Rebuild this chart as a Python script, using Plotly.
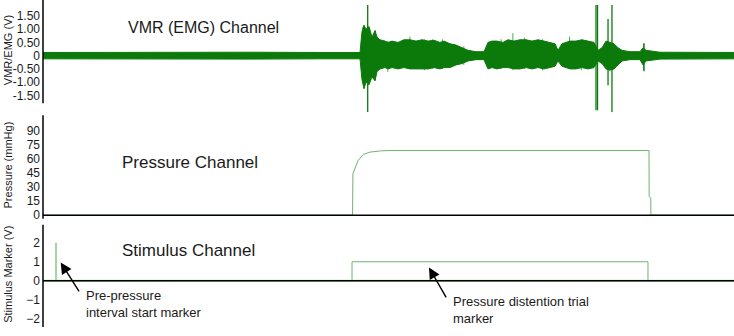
import plotly.graph_objects as go

# ---------------- data ----------------
# EMG envelope (time in s, max / min in V)
emg_t = [0, 10, 20, 30, 40, 45.88, 46.16, 46.45, 46.74, 47.18, 47.61, 48.05, 48.34, 48.77,
         49.49, 49.93, 50.51, 51.37, 52.24, 53.11, 53.98, 54.85, 55.72, 56.58, 57.45,
         58.03, 58.90, 59.77, 60.64, 61.51, 62.66, 63.82, 64.40, 64.98, 65.70, 66.57,
         67.29, 68.16, 69.03, 69.90, 70.77, 71.64, 72.50, 73.37, 74.10, 74.53, 75.11,
         75.69, 76.27, 77.13, 78.00, 78.87, 79.74, 80.32, 80.90, 81.48, 82.05, 82.63,
         83.21, 83.79, 84.95, 86.40, 86.83, 87.26, 89.29, 95, 100]
emg_max = [0.12, 0.13, 0.12, 0.13, 0.12, 0.12, 0.9, 1.15, 1.0, 1.1, 0.7, 0.95, 0.7, 0.6,
           0.55, 0.5, 0.55, 0.5, 0.6, 0.6, 0.55, 0.6, 0.55, 0.58, 0.5,
           0.55, 0.45, 0.4, 0.3, 0.2, 0.15, 0.15, 0.5, 0.55, 0.55, 0.5,
           0.6, 0.55, 0.6, 0.6, 0.55, 0.6, 0.55, 0.5, 0.45, 0.2, 0.45,
           0.5, 0.55, 0.55, 0.6, 0.55, 0.5, 0.2, 0.3, 0.55, 0.5, 0.45,
           0.3, 0.2, 0.15, 0.15, 0.3, 0.2, 0.13, 0.12, 0.12]
emg_min = [-0.12, -0.13, -0.12, -0.13, -0.12, -0.12, -0.9, -1.25, -1.0, -1.1, -0.8, -0.95, -0.6, -0.5,
           -0.45, -0.5, -0.45, -0.5, -0.45, -0.5, -0.5, -0.5, -0.5, -0.45, -0.5,
           -0.45, -0.45, -0.35, -0.3, -0.2, -0.15, -0.15, -0.5, -0.45, -0.5, -0.45,
           -0.45, -0.5, -0.5, -0.45, -0.5, -0.45, -0.5, -0.45, -0.4, -0.2, -0.4,
           -0.45, -0.5, -0.5, -0.45, -0.5, -0.45, -0.2, -0.3, -0.5, -0.55, -0.5,
           -0.35, -0.2, -0.15, -0.15, -0.35, -0.2, -0.13, -0.12, -0.12]
# large isolated EMG spikes: time, top, bottom (V)
spike_t = [46.99, 80.03, 80.25, 81.77, 82.34, 86.98]
spike_top = [1.91, 1.91, 1.91, 1.38, 1.91, 0.47]
spike_bot = [-2.14, -2.06, -2.06, -1.12, -2.14, -0.59]
# small EMG spikes on the burst edges: time, top, bottom (V)
small_t = [46.3, 46.55, 48.1, 49.9, 53.1, 55.2, 56.4, 57.8, 60.9, 66.3, 68.0, 69.7, 72.3,
           76.2, 77.9, 86.9]
small_top = [1.09, 1.05, 0.94, 0.55, 0.72, 0.62, 0.62, 0.62, 0.35, 0.62, 0.85, 0.68, 0.62,
             0.72, 0.6, 0.45]
small_bot = [-1.0, -1.05, -0.93, -0.61, -0.5, -0.55, -0.5, -0.5, -0.35, -0.5, -0.55, -0.5, -0.55,
             -0.5, -0.55, -0.55]

# Pressure channel (mmHg)
press_t = [0, 44.8, 44.85, 45.15, 45.6, 46.35, 47.3, 48.8, 50.2, 87.7, 87.72, 87.95, 87.98, 100]
press_v = [0, 0, 44, 49, 58, 64.4, 66.9, 68.2, 68.6, 68.6, 20, 18, 0, 0]

# Stimulus channel (V)
pulse_t = [0, 1.88, 1.88, 1.88, 100]
pulse_v = [0, 0, 2, 0, 0]
trial_t = [0, 44.72, 44.72, 87.55, 87.55, 100]
trial_v = [0, 0, 1, 1, 0, 0]

emg_ticks = [1.5, 1.0, 0.5, 0, -0.5, -1.0, -1.5]
emg_ticktext = ["1.50", "1.00", "0.50", "0", "-0.50", "-1.00", "-1.50"]
press_ticks = [0, 15, 30, 45, 60, 75, 90]
stim_ticks = [-2, -1, 0, 1, 2]

# ---------------- figure ----------------
W, H = 734, 336
FIG_H = 341
L = 43
FONT = "Arial, Liberation Sans, sans-serif"
EMG_C = "#0b7a0b"
P_C = "#6db36d"

def px(x):
    return (x - L) / (W - L)

def py(y):
    return 1 - y / H

fig = go.Figure()

# EMG band
fig.add_trace(go.Scatter(x=emg_t, y=emg_max, mode="lines", line=dict(color=EMG_C, width=1),
                         xaxis="x", yaxis="y", showlegend=False, hoverinfo="skip"))
fig.add_trace(go.Scatter(x=emg_t, y=emg_min, mode="lines", line=dict(color=EMG_C, width=1),
                         fill="tonexty", fillcolor=EMG_C,
                         xaxis="x", yaxis="y", showlegend=False, hoverinfo="skip"))
sx, sy = [], []
for t, a, b in zip(small_t, small_top, small_bot):
    sx += [t, t, None]
    sy += [a, b, None]
fig.add_trace(go.Scatter(x=sx, y=sy, mode="lines", line=dict(color="rgba(11,122,11,0.7)", width=1),
                         xaxis="x", yaxis="y", showlegend=False, hoverinfo="skip"))
sx, sy = [], []
for t, a, b in zip(spike_t, spike_top, spike_bot):
    sx += [t, t, None]
    sy += [a, b, None]
fig.add_trace(go.Scatter(x=sx, y=sy, mode="lines", line=dict(color=EMG_C, width=1.3),
                         xaxis="x", yaxis="y", showlegend=False, hoverinfo="skip"))

# Pressure
fig.add_trace(go.Scatter(x=press_t, y=press_v, mode="lines", line=dict(color=P_C, width=1),
                         xaxis="x2", yaxis="y2", showlegend=False, hoverinfo="skip"))

# Stimulus
fig.add_trace(go.Scatter(x=trial_t, y=trial_v, mode="lines", line=dict(color=P_C, width=1),
                         xaxis="x3", yaxis="y3", showlegend=False, hoverinfo="skip"))
fig.add_trace(go.Scatter(x=pulse_t, y=pulse_v, mode="lines", line=dict(color="#a3d6a3", width=2),
                         xaxis="x3", yaxis="y3", showlegend=False, hoverinfo="skip"))

tickfont = dict(family=FONT, size=12, color="#1a1a1a")
common_x = dict(range=[0, 100], visible=False, fixedrange=True)
ycommon = dict(showgrid=False, zeroline=False, showline=False, ticks="", tickfont=tickfont,
               ticklabelstandoff=2, fixedrange=True)

fig.update_layout(
    width=W, height=FIG_H, autosize=False,
    margin=dict(l=L, r=0, t=0, b=0, pad=0),
    paper_bgcolor="white", plot_bgcolor="white",
    xaxis=dict(domain=[0, 1], anchor="y", **common_x),
    xaxis2=dict(domain=[0, 1], anchor="y2", **common_x),
    xaxis3=dict(domain=[0, 1], anchor="y3", **common_x),
    yaxis=dict(domain=[py(112), 1], range=[-(112 - 55.5) / 26.4, 55.5 / 26.4],
               tickvals=emg_ticks, ticktext=emg_ticktext, anchor="x", **ycommon),
    yaxis2=dict(domain=[py(218), py(115)], range=[-(218 - 214.5) / 0.939, (214.5 - 115) / 0.939],
                tickvals=press_ticks, anchor="x2", **ycommon),
    yaxis3=dict(domain=[py(325), py(225)], range=[-(325 - 280) / 19.0, (280 - 225) / 19.0],
                tickvals=stim_ticks, anchor="x3", **ycommon),
)

# axis lines
shapes = []
for y0, y1 in [(0, 103), (115, 218), (224, 326)]:
    shapes.append(dict(type="line", xref="paper", yref="paper", x0=0, x1=0,
                       y0=py(y1), y1=py(y0), line=dict(color="black", width=1.5)))
shapes.append(dict(type="line", xref="paper", yref="y2", x0=0, x1=1, y0=0, y1=0,
                   line=dict(color="black", width=1.5), layer="above"))
shapes.append(dict(type="line", xref="paper", yref="y3", x0=0, x1=1, y0=0, y1=0,
                   line=dict(color="black", width=1.5), layer="above"))
fig.update_layout(shapes=shapes)

ann = []
# rotated axis titles
for txt, yc in [("VMR/EMG (V)", 50), ("Pressure (mmHg)", 165), ("Stimulus Marker (V)", 274)]:
    ann.append(dict(text=txt, xref="paper", yref="paper", x=px(8), y=py(yc), textangle=-90,
                    showarrow=False, font=dict(family=FONT, size=11, color="#1a1a1a"),
                    xanchor="center", yanchor="middle"))
# channel titles
for txt, xc, yc, fs in [("VMR (EMG) Channel", 203, 27, 16), ("Pressure Channel", 190, 162, 17),
                        ("Stimulus Channel", 188, 250, 17)]:
    ann.append(dict(text=txt, xref="paper", yref="paper", x=px(xc), y=py(yc), showarrow=False,
                    font=dict(family=FONT, size=fs, color="#1a1a1a"),
                    xanchor="center", yanchor="middle"))
# labels
ann.append(dict(text="Pre-pressure<br>interval start marker", xref="paper", yref="paper",
                x=px(84), y=py(285), xanchor="left", yanchor="top", align="left",
                showarrow=False, font=dict(family=FONT, size=13, color="#1a1a1a")))
ann.append(dict(text="Pressure distention trial<br>marker", xref="paper", yref="paper",
                x=px(451), y=py(291), xanchor="left", yanchor="top", align="left",
                showarrow=False, font=dict(family=FONT, size=13, color="#1a1a1a")))
# arrows
for tip, tail in [((60.7, 261.7), (80, 292)), ((429, 266.7), (447, 298))]:
    ann.append(dict(text="", xref="paper", yref="paper", x=px(tip[0]), y=py(tip[1]),
                    axref="pixel", ayref="pixel", ax=tail[0] - tip[0], ay=tail[1] - tip[1],
                    showarrow=True, arrowhead=2, arrowsize=1.6, arrowwidth=1.4,
                    arrowcolor="black"))
fig.update_layout(annotations=ann)

fig.write_html("out.html")
